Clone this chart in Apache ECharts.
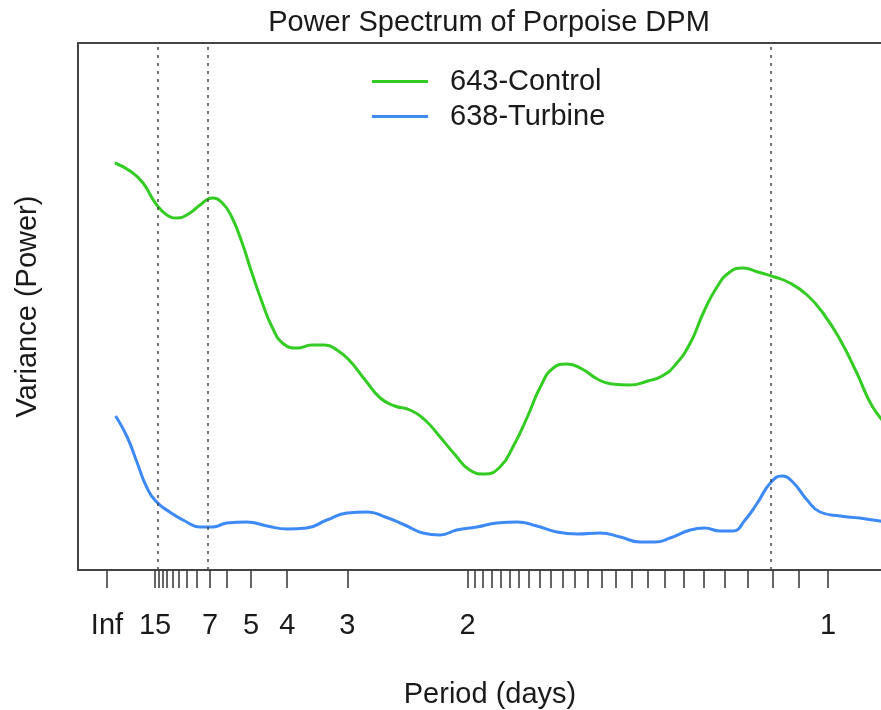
<!DOCTYPE html>
<html>
<head>
<meta charset="utf-8">
<title>Power Spectrum of Porpoise DPM</title>
<script src="https://cdn.jsdelivr.net/npm/echarts@6/dist/echarts.min.js"></script>
<style>
  html, body { margin: 0; padding: 0; background: #fff; }
  #chart { width: 881px; height: 710px; }
</style>
</head>
<body>
<div id="chart"></div>
<script>
// x = frequency (cycles per day), y = spectral power (arbitrary units)
var controlFreq = [0.011, 0.032, 0.050, 0.067, 0.083, 0.098, 0.115, 0.129, 0.146, 0.160, 0.173, 0.187,
  0.201, 0.215, 0.229, 0.245, 0.264, 0.284, 0.302, 0.319, 0.337, 0.358, 0.379, 0.399, 0.420, 0.441,
  0.462, 0.483, 0.503, 0.524, 0.545, 0.563, 0.583, 0.601, 0.619, 0.638, 0.659, 0.680, 0.700, 0.725,
  0.750, 0.770, 0.788, 0.809, 0.827, 0.846, 0.864, 0.882, 0.903, 0.926, 0.947, 0.971, 0.993, 1.017,
  1.040, 1.062, 1.086];
var controlPower = [8.14, 7.98, 7.74, 7.34, 7.10, 7.04, 7.14, 7.30, 7.44, 7.34, 7.06, 6.56,
  5.94, 5.36, 4.86, 4.52, 4.44, 4.50, 4.50, 4.40, 4.18, 3.80, 3.44, 3.28, 3.20, 3.00,
  2.66, 2.30, 2.00, 1.92, 2.06, 2.46, 3.06, 3.66, 4.04, 4.12, 4.02, 3.82, 3.72, 3.70,
  3.78, 3.88, 4.10, 4.54, 5.14, 5.66, 5.96, 6.04, 5.96, 5.86, 5.74, 5.50, 5.14, 4.60,
  3.94, 3.26, 2.84];

var turbineFreq = [0.012, 0.028, 0.042, 0.055, 0.069, 0.087, 0.108, 0.129, 0.147, 0.166, 0.194, 0.222,
  0.250, 0.277, 0.305, 0.333, 0.361, 0.386, 0.413, 0.438, 0.462, 0.485, 0.513, 0.541, 0.569, 0.596,
  0.624, 0.652, 0.684, 0.712, 0.739, 0.760, 0.781, 0.809, 0.829, 0.850, 0.868, 0.885, 0.902, 0.920,
  0.936, 0.951, 0.971, 0.989, 1.017, 1.044, 1.072, 1.093];
var turbinePower = [3.08, 2.66, 2.14, 1.66, 1.36, 1.16, 0.98, 0.86, 0.86, 0.94, 0.96, 0.88,
  0.82, 0.84, 1.00, 1.14, 1.16, 1.06, 0.90, 0.74, 0.70, 0.80, 0.86, 0.94, 0.96, 0.88,
  0.76, 0.72, 0.74, 0.66, 0.56, 0.56, 0.64, 0.80, 0.84, 0.78, 0.78, 1.00, 1.34, 1.74,
  1.88, 1.76, 1.40, 1.16, 1.08, 1.04, 0.98, 0.96];

// axis ticks, given as periods
var tickDays = [Infinity, 15, 14, 13, 12, 11, 10, 9, 8, 7, 6, 5, 4, 3];
var tickHours = [48, 47, 46, 45, 44, 43, 42, 41, 40, 39, 38, 37, 36, 35, 34, 33, 32, 31, 30, 29, 28, 27, 26, 25, 24];
var labelDays = [Infinity, 15, 7, 5, 4, 3, 2, 1];
var refLineHours = [360, 168, 26];

var font = 'Liberation Sans, Arial, Helvetica, sans-serif';
var ink = '#1a1a1a';
var boxLine = { show: true, onZero: false, lineStyle: { color: '#444', width: 2 } };
var textStyle = { fontFamily: font, fontSize: 29, fontWeight: 'normal', color: ink };

function pairs(xs, ys) {
  return xs.map(function(x, i) { return [x, ys[i]]; });
}

var tickFreqs = tickDays.map(function(d) { return 1 / d; })
  .concat(tickHours.map(function(h) { return 24 / h; }));

var chart = echarts.init(document.getElementById('chart'));
var options = {
  backgroundColor: '#fff',
  animation: false,
  textStyle: { fontFamily: font },

  title: [
    {
      text: 'Power Spectrum of Porpoise DPM',
      left: 484,
      textAlign: 'center',
      top: 3,
      textStyle: textStyle,
    },
    {
      text: 'Period (days)',
      left: 485,
      textAlign: 'center',
      top: 675,
      textStyle: textStyle,
    },
  ],

  legend: {
    orient: 'vertical',
    left: 372,
    top: 67,
    padding: 0,
    itemWidth: 56,
    itemHeight: 3,
    itemGap: 6,
    icon: 'rect',
    textStyle: { fontFamily: font, fontSize: 29, color: ink, padding: [0, 0, 0, 17] },
    data: ['643-Control', '638-Turbine'],
  },

  grid: { left: 78, right: 0, top: 43, bottom: 140 },

  xAxis: [
    {
      type: 'value',
      min: -0.0402,
      max: 1.0735,
      axisLine: boxLine,
      splitLine: { show: false },
      axisTick: {
        show: true,
        length: 18,
        customValues: tickFreqs,
        lineStyle: { color: '#333', width: 1.5 },
      },
      axisLabel: {
        show: true,
        margin: 41,
        customValues: labelDays.map(function(d) { return 1 / d; }),
        fontFamily: font,
        fontSize: 29,
        color: ink,
        formatter: function(v) {
          return v === 0 ? 'Inf' : String(Math.round(1 / v));
        },
      },
    },
    {
      type: 'value',
      position: 'top',
      min: -0.0402,
      max: 1.0735,
      axisLine: boxLine,
      axisTick: { show: false },
      axisLabel: { show: false },
      splitLine: { show: false },
    },
  ],

  yAxis: {
    type: 'value',
    min: 0,
    max: 10.54,
    name: 'Variance (Power)',
    nameLocation: 'middle',
    nameGap: 36,
    nameTextStyle: textStyle,
    axisLine: boxLine,
    axisTick: { show: false },
    axisLabel: { show: false },
    splitLine: { show: false },
  },

  series: [
    {
      name: '643-Control',
      type: 'line',
      xAxisIndex: 0,
      data: pairs(controlFreq, controlPower),
      smooth: 0.5,
      showSymbol: false,
      color: '#33cc22',
      lineStyle: { width: 3 },
      markLine: {
        silent: true,
        symbol: 'none',
        label: { show: false },
        lineStyle: { color: '#444', width: 1.5, type: [3, 5] },
        data: refLineHours.map(function(h) { return { xAxis: 24 / h }; }),
      },
    },
    {
      name: '638-Turbine',
      type: 'line',
      xAxisIndex: 0,
      data: pairs(turbineFreq, turbinePower),
      smooth: 0.5,
      showSymbol: false,
      color: '#3d8af7',
      lineStyle: { width: 3 },
    },
  ],
};
chart.setOption(options);
</script>
</body>
</html>
